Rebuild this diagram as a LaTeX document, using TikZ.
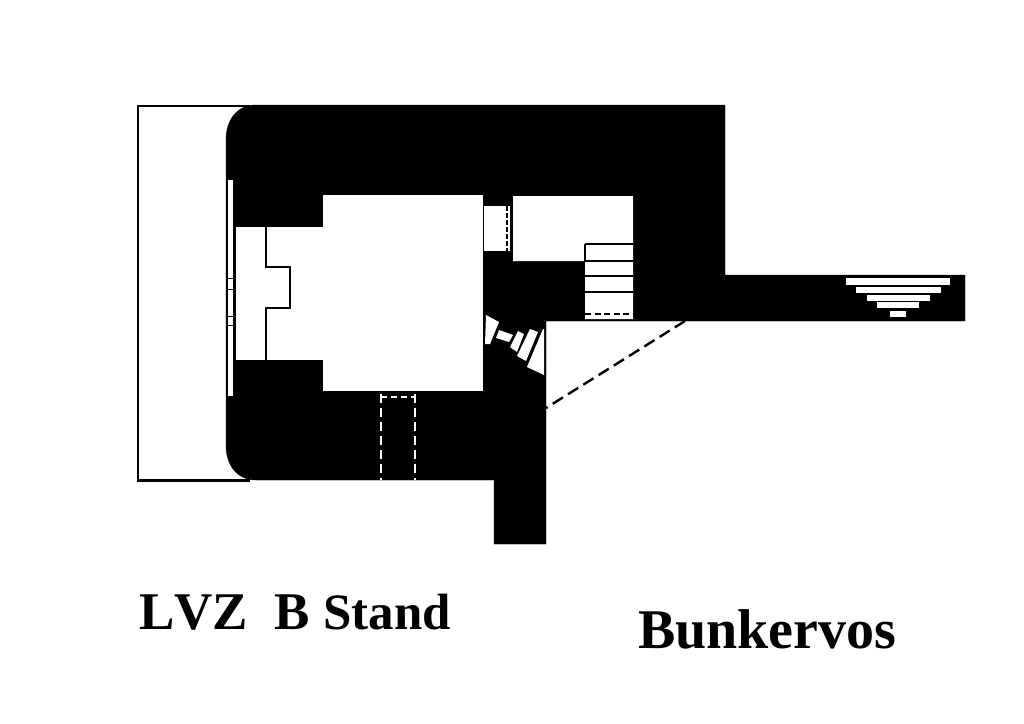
\documentclass[tikz,border=0pt]{standalone}
\usepackage{fontspec}
\setmainfont{Liberation Serif}
\tikzset{
  wall/.style={fill=black,draw=black},
  room/.style={fill=white},
  thin line/.style={draw=black,line width=1.5pt},
  white dash/.style={draw=white,line width=1.8pt,dash pattern=on 9pt off 5pt},
  title/.style={font=\bfseries\fontsize{53}{53}\selectfont,anchor=base west,inner sep=0pt},
}
\begin{document}
\begin{tikzpicture}[x=1pt,y=-1pt]
        \useasboundingbox (0,0) rectangle (1024,723);
        \draw [line width=2.4pt] (250,106) -- (138,106) -- (138,480.5) -- (250,480.5);
        \draw [wall] (226,140) .. controls (226,120) and (237,105) .. (256,105) -- (725,105) -- (725,275) -- (965,275)
              -- (965,321) -- (546,321) -- (546,544) -- (494,544) -- (494,480) -- (256,480)
              .. controls (237,480) and (226,465) .. (226,445) -- cycle;
        \fill [room] (228,180) rectangle (233,396);
        \draw [black,line width=.8pt] (228,278) -- (233,278);
        \draw [black,line width=.8pt] (228,289) -- (233,289);
        \draw [black,line width=.8pt] (228,316) -- (233,316);
        \draw [black,line width=.8pt] (228,325) -- (233,325);
        \fill [room] (236,227) rectangle (323,360);
        \fill [room] (323,195) rectangle (483,391);
        \draw [thin line] (266,227) -- (266,267) -- (290,267) -- (290,308) -- (266,308) -- (266,360);
        \fill [room] (484,206) rectangle (510,251);
        \draw [black,line width=2pt,dash pattern=on 5pt off 2pt] (507,206) -- (507,251);
        \fill [room] (513,196) -- (633,196) -- (633,319) -- (585,319) -- (585,261) -- (513,261) -- cycle;
        \foreach \y in {244,261,276,292}
          \draw [thin line,line width=1.8pt] (585,\y) -- (633,\y);
        \draw [thin line] (585,244) -- (585,261);
        \draw [black,line width=1.5pt,dash pattern=on 6pt off 3.5pt] (585,314) -- (633,314);
        \fill [room] (486,315) -- (499,322) -- (490,344) -- (485,344) -- cycle;
        \fill [room] (499,330) -- (513,335) -- (509,342) -- (496,338) -- cycle;
        \fill [room] (518,331) -- (524,334) -- (517,352) -- (510,347) -- cycle;
        \fill [room] (530,329) -- (538,332) -- (526,361) -- (517,356) -- cycle;
        \fill [room] (543,329) -- (544,329) -- (544,375) -- (527,367) -- cycle;
        \draw [black,line width=2.4pt,dash pattern=on 12pt off 6pt] (685,321) -- (546,408);
        \fill [room] (846,278) rectangle (950,285);
        \fill [room] (856,287) rectangle (941,293);
        \fill [room] (867,295) rectangle (930,301);
        \fill [room] (877,302) rectangle (919,308);
        \fill [room] (890,311) rectangle (906,317);
        \draw [white dash] (381,394) -- (381,480);
        \draw [white dash] (415,394) -- (415,480);
        \draw [white dash,line width=1.4pt,dash pattern=on 6pt off 4pt] (381,397) -- (415,397);
        \node [title] (standlabel) at (139,629) {{\addfontfeature{Kerning=Off}LVZ}\ \ B {\fontsize{51}{51}\selectfont Stand}};
        \node [title,font=\bfseries\fontsize{56}{56}\selectfont] (namelabel) at (638,648) {Bunkervos};
\end{tikzpicture}
\end{document}
